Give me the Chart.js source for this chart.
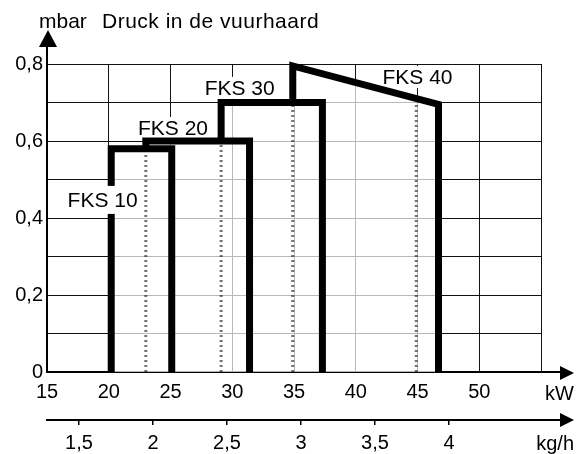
<!DOCTYPE html>
<html><head><meta charset="utf-8">
<script src="https://cdn.jsdelivr.net/npm/chart.js@4.4.1/dist/chart.umd.min.js"></script>
<style>html,body{margin:0;padding:0;background:#fff;} #wrap{width:576px;height:454px;}</style>
</head><body><div id="wrap"><canvas id="c" width="576" height="454"></canvas></div>
<script>
// ---- data ----
const kwTicks = [15, 20, 25, 30, 35, 40, 45, 50];
const kghTicks = [1.5, 2, 2.5, 3, 3.5, 4];
const mbarTicks = [0, 0.1, 0.2, 0.3, 0.4, 0.5, 0.6, 0.7, 0.8];
const kwRange = [15, 55];
const kghRange = [1.284, 4.622];
const mbarRange = [0, 0.8];

const seriesNames = ['FKS 10', 'FKS 20', 'FKS 30', 'FKS 40'];
const fks10Kw = [20.2, 20.2, 25.1, 25.1];
const fks10Mbar = [0, 0.58, 0.58, 0];
const fks20Kw = [23.0, 23.0, 31.4, 31.4];
const fks20Mbar = [0.58, 0.60, 0.60, 0];
const fks30Kw = [29.1, 29.1, 37.3, 37.3];
const fks30Mbar = [0.60, 0.70, 0.70, 0];
const fks40Kw = [34.9, 34.9, 46.7, 46.7];
const fks40Mbar = [0.70, 0.795, 0.695, 0];

const dottedKw = [23.0, 29.1, 34.9, 44.9];
const dottedTop = [0.58, 0.60, 0.70, 0.70];

const labelKw = [19.5, 25.2, 30.6, 45.0];
const labelMbar = [0.447, 0.634, 0.738, 0.766];
const labelOnLine = [true, false, false, false];

const titleUnit = 'mbar';
const titleText = 'Druck in de vuurhaard';
const xUnit = 'kW';
const x2Unit = 'kg/h';

// ---- build ----
const FONT = '"Liberation Sans", Arial, Helvetica, sans-serif';
Chart.defaults.font.family = FONT;
Chart.defaults.color = '#000';

const series = [[fks10Kw, fks10Mbar], [fks20Kw, fks20Mbar], [fks30Kw, fks30Mbar], [fks40Kw, fks40Mbar]];
const toPts = (k, m) => k.map((x, i) => ({x: x, y: m[i]}));

const env = [];
series.forEach(([k, m]) => { env.push({x: k[0], y: m[0]}, {x: k[1], y: m[1]}); });
const lastS = series[series.length - 1];
env.push({x: lastS[0][2], y: lastS[1][2]}, {x: lastS[0][3], y: lastS[1][3]});

const dotted = [];
dottedKw.forEach((k, i) => { dotted.push({x: k, y: 0}, {x: k, y: dottedTop[i]}, {x: k, y: null}); });

const clipBox = {left: 10, top: 10, right: 10, bottom: 0};
const datasets = series.map(([k, m], i) => ({
  label: seriesNames[i], data: toPts(k, m), borderColor: '#000', borderWidth: 7,
  borderJoinStyle: 'miter', borderCapStyle: 'butt', pointRadius: 0, fill: false,
  tension: 0, order: 0, clip: clipBox
}));
datasets.push({label: 'nominal', data: dotted, borderColor: 'rgba(0,0,0,0.55)', borderWidth: 3,
  borderDash: [2, 3], pointRadius: 0, fill: false, spanGaps: false, order: 1, clip: clipBox});
datasets.push({label: 'area', data: env, borderWidth: 0, borderColor: 'rgba(0,0,0,0)',
  backgroundColor: 'rgba(255,255,255,0.7)', fill: 'origin', pointRadius: 0, order: 2, clip: clipBox});

function labelBox(ctx, chart, i, hh) {
  const xs = chart.scales.x, ys = chart.scales.y;
  const cx = xs.getPixelForValue(labelKw[i]), cy = ys.getPixelForValue(labelMbar[i]);
  ctx.font = '21px ' + FONT;
  const w = ctx.measureText(seriesNames[i]).width;
  ctx.fillStyle = '#fff';
  ctx.fillRect(cx - w / 2 - 4, cy - hh, w + 8, hh * 2);
  return [cx, cy];
}

const deco = {
  id: 'deco',
  beforeDatasetsDraw(chart) {
    const ctx = chart.ctx; ctx.save();
    seriesNames.forEach((n, i) => { if (!labelOnLine[i]) labelBox(ctx, chart, i, 11); });
    ctx.restore();
  },
  afterDatasetsDraw(chart) {
    const ctx = chart.ctx; ctx.save();
    seriesNames.forEach((n, i) => {
      const [cx, cy] = labelOnLine[i] ? labelBox(ctx, chart, i, 14) : [chart.scales.x.getPixelForValue(labelKw[i]), chart.scales.y.getPixelForValue(labelMbar[i])];
      ctx.fillStyle = '#000'; ctx.font = '21px ' + FONT;
      ctx.textAlign = 'center'; ctx.textBaseline = 'middle';
      ctx.fillText(n, cx, cy + 1);
    });
    ctx.restore();
  },
  afterDraw(chart) {
    const ctx = chart.ctx, a = chart.chartArea; ctx.save();
    ctx.fillStyle = '#000'; ctx.strokeStyle = '#000';
    // y axis arrow
    ctx.lineWidth = 2;
    ctx.beginPath(); ctx.moveTo(a.left, a.top); ctx.lineTo(a.left, a.top - 18); ctx.stroke();
    ctx.beginPath(); ctx.moveTo(a.left + 1, 30); ctx.lineTo(a.left - 8, 47); ctx.lineTo(a.left + 10, 47); ctx.closePath(); ctx.fill();
    // kW axis arrow
    const yb = a.bottom;
    ctx.beginPath(); ctx.moveTo(a.right, yb); ctx.lineTo(562, yb); ctx.stroke();
    ctx.beginPath(); ctx.moveTo(574, yb + 1); ctx.lineTo(560, yb - 6); ctx.lineTo(560, yb + 8); ctx.closePath(); ctx.fill();
    // kg/h axis arrow
    const y2 = chart.scales.x2.top;
    ctx.beginPath(); ctx.moveTo(a.right, y2); ctx.lineTo(562, y2); ctx.stroke();
    ctx.beginPath(); ctx.moveTo(574, y2); ctx.lineTo(560, y2 - 7); ctx.lineTo(560, y2 + 7); ctx.closePath(); ctx.fill();
    // unit labels
    ctx.font = '20px ' + FONT; ctx.textBaseline = 'middle'; ctx.textAlign = 'right';
    ctx.fillText(xUnit, 574, 394);
    ctx.fillText(x2Unit, 574, 444);
    // title
    ctx.textAlign = 'left'; ctx.textBaseline = 'alphabetic';
    ctx.font = '21px ' + FONT;
    ctx.fillText(titleUnit, 39, 28);
    try { ctx.letterSpacing = '0.5px'; } catch (e) {}
    ctx.fillText(titleText, 102, 28);
    ctx.restore();
  }
};

new Chart(document.getElementById('c'), {
  type: 'line',
  data: {datasets: datasets},
  options: {
    responsive: false, animation: false, devicePixelRatio: 1,
    layout: {padding: {top: 64, right: 35, left: 0, bottom: 0}},
    plugins: {legend: {display: false}, tooltip: {enabled: false}},
    scales: {
      x: {
        type: 'linear', position: 'bottom', min: kwRange[0], max: kwRange[1], weight: 0,
        afterBuildTicks: s => { s.ticks = kwTicks.concat([kwRange[1]]).map(v => ({value: v})); },
        afterFit: s => { s.height = 48; },
        grid: {color: '#111', lineWidth: 1, drawTicks: false},
        border: {color: '#000', width: 2},
        ticks: {autoSkip: false, maxRotation: 0, padding: 8, font: {size: 20},
          callback: v => kwTicks.includes(v) ? String(v) : ''}
      },
      x2: {
        type: 'linear', position: 'bottom', min: kghRange[0], max: kghRange[1], weight: 1,
        afterBuildTicks: s => { s.ticks = kghTicks.map(v => ({value: v})); },
        afterFit: s => { s.height = 34; },
        grid: {drawOnChartArea: false, drawTicks: true, tickLength: 5, color: '#000', lineWidth: 1.5},
        border: {color: '#000', width: 2},
        ticks: {autoSkip: false, maxRotation: 0, padding: 6, font: {size: 20},
          callback: v => String(v).replace('.', ',')}
      },
      y: {
        type: 'linear', min: mbarRange[0], max: mbarRange[1],
        afterBuildTicks: s => { s.ticks = mbarTicks.map(v => ({value: v})); },
        afterFit: s => { s.width = 47; },
        grid: {color: '#111', lineWidth: 1, drawTicks: false},
        border: {color: '#000', width: 2},
        ticks: {autoSkip: false, padding: 4, font: {size: 20},
          callback: v => { const t = Math.round(v * 10); return t % 2 ? '' : (t === 0 ? '0' : (t / 10).toFixed(1).replace('.', ',')); }}
      }
    }
  },
  plugins: [deco]
});
</script></body></html>
